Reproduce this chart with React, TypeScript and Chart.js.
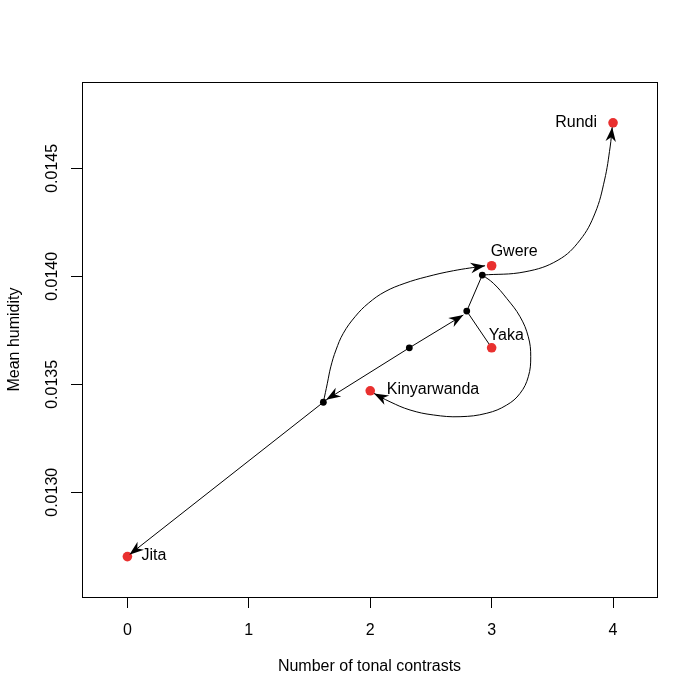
import React, { useEffect, useRef } from "react";
import { Chart, registerables } from "chart.js";

Chart.register(...registerables);

// ---- Data ----
const tipNames = ["Jita", "Kinyarwanda", "Gwere", "Yaka", "Rundi"];
const tipTones = [0, 2, 3, 3, 4];
const tipHumidity = [0.012702, 0.01347, 0.014049, 0.013669, 0.014711];

// internal nodes: root, A, B, C
const nodeTones = [2.322, 1.614, 2.795, 2.923];
const nodeHumidity = [0.013669, 0.013417, 0.013839, 0.014006];

const xTicks = [0, 1, 2, 3, 4];
const yTicks = [0.013, 0.0135, 0.014, 0.0145];

// branch paths [tones, humidity]
const branchRootToA = [[2.322, 0.013669], [1.637, 0.013428]];
const branchRootToB = [[2.322, 0.013669], [2.767, 0.013821]];
const branchAToJita = [[1.614, 0.013417], [0.016, 0.012711]];
const branchBToC = [[2.795, 0.013839], [2.923, 0.014006]];
const branchBToYaka = [[2.795, 0.013839], [3.0, 0.013669]];
const branchAToGwere = [
  [1.614, 0.013417], [1.647, 0.013505], [1.675, 0.013581], [1.718, 0.013659],
  [1.778, 0.013736], [1.875, 0.013813], [1.984, 0.013875], [2.122, 0.013929],
  [2.286, 0.013968], [2.465, 0.013998], [2.685, 0.014026], [2.946, 0.014049],
];
const branchCToRundi = [
  [2.923, 0.014006], [3.275, 0.014021], [3.547, 0.014075], [3.728, 0.014168],
  [3.852, 0.014293], [3.93, 0.014446], [3.976, 0.014599], [3.993, 0.014691],
];
const branchCToKinyarwanda = [
  [2.923, 0.014006], [3.014, 0.013968], [3.124, 0.013898], [3.234, 0.013813],
  [3.302, 0.01372], [3.322, 0.013628], [3.302, 0.013535], [3.234, 0.013458],
  [3.124, 0.013404], [2.96, 0.013366], [2.74, 0.01335], [2.52, 0.013358],
  [2.328, 0.013381], [2.163, 0.013419], [2.031, 0.013458],
];

// ---- Styles ----
const FONT = "'Liberation Sans', Arial, Helvetica, sans-serif";
const RED = "rgb(233,48,47)";
const labelStyle: Record<string, { dx: number; dy: number; align: CanvasTextAlign }> = {
  Jita: { dx: 14, dy: -1.5, align: "left" },
  Kinyarwanda: { dx: 16.5, dy: -1, align: "left" },
  Gwere: { dx: -1, dy: -14, align: "left" },
  Yaka: { dx: -3, dy: -12.7, align: "left" },
  Rundi: { dx: -16, dy: -0.5, align: "right" },
};

const toXY = (arr: number[][]) => arr.map(([x, y]) => ({ x, y }));

const branches = [
  { path: branchRootToA, arrow: true, tension: 0 },
  { path: branchRootToB, arrow: true, tension: 0 },
  { path: branchAToJita, arrow: true, tension: 0 },
  { path: branchBToC, arrow: false, tension: 0 },
  { path: branchBToYaka, arrow: false, tension: 0 },
  { path: branchAToGwere, arrow: true, tension: 0.4 },
  { path: branchCToRundi, arrow: true, tension: 0.4 },
  { path: branchCToKinyarwanda, arrow: true, tension: 0.4 },
];

const boxPlugin = {
  id: "box",
  afterDraw(chart: any) {
    const { ctx, chartArea } = chart;
    ctx.save();
    ctx.strokeStyle = "#000";
    ctx.lineWidth = 1;
    ctx.strokeRect(
      Math.round(chartArea.left) + 0.5,
      Math.round(chartArea.top) + 0.5,
      Math.round(chartArea.right - chartArea.left),
      Math.round(chartArea.bottom - chartArea.top)
    );
    ctx.restore();
  },
};

const arrowPlugin = {
  id: "arrows",
  afterDatasetsDraw(chart: any) {
    const ctx = chart.ctx;
    chart.data.datasets.forEach((ds: any, i: number) => {
      if (!ds.arrowHead) return;
      const pts = chart.getDatasetMeta(i).data;
      const n = pts.length;
      if (n < 2) return;
      const tip = pts[n - 1];
      const prev = pts[n - 2];
      const ang = Math.atan2(tip.y - prev.y, tip.x - prev.x);
      const L = 14.5;
      const W = 5.2;
      const notch = 0.7 * L;
      const cos = Math.cos(ang);
      const sin = Math.sin(ang);
      const pt = (a: number, b: number) => [tip.x - a * cos + b * sin, tip.y - a * sin - b * cos];
      ctx.save();
      ctx.fillStyle = "#000";
      ctx.beginPath();
      ctx.moveTo(tip.x, tip.y);
      const p1 = pt(L, W);
      const p2 = pt(notch, 0);
      const p3 = pt(L, -W);
      ctx.lineTo(p1[0], p1[1]);
      ctx.lineTo(p2[0], p2[1]);
      ctx.lineTo(p3[0], p3[1]);
      ctx.closePath();
      ctx.fill();
      ctx.restore();
    });
  },
};

const labelPlugin = {
  id: "tipLabels",
  afterDatasetsDraw(chart: any) {
    const ctx = chart.ctx;
    const meta = chart.getDatasetMeta(0);
    ctx.save();
    ctx.font = `16px ${FONT}`;
    ctx.fillStyle = "#000";
    ctx.textBaseline = "middle";
    tipNames.forEach((name, i) => {
      const p = meta.data[i];
      const s = labelStyle[name];
      ctx.textAlign = s.align;
      ctx.fillText(name, p.x + s.dx, p.y + s.dy);
    });
    // y tick labels, rotated like R's default
    const yScale = chart.scales.y;
    ctx.textAlign = "center";
    yScale.ticks.forEach((t: any) => {
      const py = yScale.getPixelForValue(t.value);
      ctx.save();
      ctx.translate(53, py);
      ctx.rotate(-Math.PI / 2);
      ctx.fillText(t.value.toFixed(4), 0, 0);
      ctx.restore();
    });
    ctx.restore();
  },
};

export default function App() {
  const ref = useRef<HTMLCanvasElement | null>(null);
  useEffect(() => {
    if (!ref.current) return;
    const datasets: any[] = [
      {
        type: "scatter",
        data: tipTones.map((x, i) => ({ x, y: tipHumidity[i] })),
        pointRadius: 4.8,
        pointBackgroundColor: RED,
        pointBorderWidth: 0,
        showLine: false,
      },
      {
        type: "scatter",
        data: nodeTones.map((x, i) => ({ x, y: nodeHumidity[i] })),
        pointRadius: 3.4,
        pointBackgroundColor: "#000",
        pointBorderWidth: 0,
        showLine: false,
      },
      ...branches.map((b) => ({
        type: "line",
        data: toXY(b.path),
        borderColor: "#000",
        borderWidth: 1,
        pointRadius: 0,
        tension: b.tension,
        fill: false,
        arrowHead: b.arrow,
      })),
    ];
    const chart = new Chart(ref.current, {
      type: "scatter",
      data: { datasets },
      options: {
        animation: false,
        responsive: false,
        devicePixelRatio: 1,
        layout: { padding: { top: 82, right: 43, left: 0, bottom: 0 } },
        plugins: { legend: { display: false }, tooltip: { enabled: false } },
        scales: {
          x: {
            type: "linear",
            min: -0.374,
            max: 4.362,
            afterFit: (s: any) => { s.height = 103; },
            afterBuildTicks: (s: any) => { s.ticks = xTicks.map((v) => ({ value: v })); },
            ticks: {
              includeBounds: false,
              stepSize: 1,
              color: "#000",
              font: { family: FONT, size: 16 },
              padding: 13,
              maxRotation: 0,
              callback: (v: any) => String(v),
            },
            grid: { drawOnChartArea: false, drawTicks: true, tickLength: 11, color: "#000" },
            border: { display: true, color: "#000" },
            title: {
              display: true,
              text: "Number of tonal contrasts",
              color: "#000",
              font: { family: FONT, size: 16 },
              padding: { top: 0, bottom: 23.5 },
            },
          },
          y: {
            type: "linear",
            min: 0.012515,
            max: 0.0149,
            afterFit: (s: any) => { s.width = 82; },
            afterBuildTicks: (s: any) => { s.ticks = yTicks.map((v) => ({ value: v })); },
            ticks: { display: false, includeBounds: false },
            grid: { drawOnChartArea: false, drawTicks: true, tickLength: 11, color: "#000" },
            border: { display: true, color: "#000" },
            title: {
              display: true,
              text: "Mean humidity",
              color: "#000",
              font: { family: FONT, size: 16 },
              padding: { top: 5, bottom: 0 },
            },
          },
        },
      } as any,
      plugins: [boxPlugin, arrowPlugin, labelPlugin],
    });
    return () => chart.destroy();
  }, []);
  return (
    <div style={{ position: "absolute", left: 0, top: 0, width: 700, height: 700, background: "#fff" }}>
      <canvas ref={ref} width={700} height={700} style={{ display: "block" }} />
    </div>
  );
}
